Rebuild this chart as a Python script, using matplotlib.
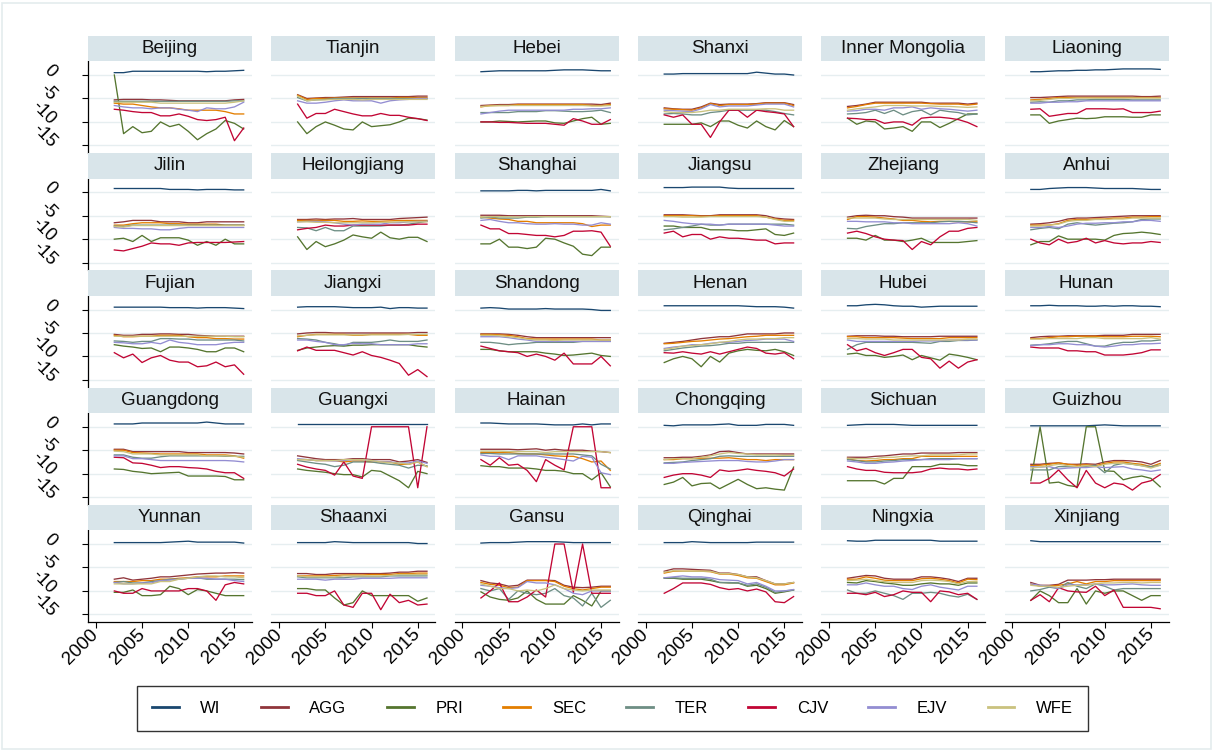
import numpy as np
import matplotlib
matplotlib.use('Agg')
import matplotlib.pyplot as plt
from matplotlib.patches import Rectangle
from matplotlib.lines import Line2D

plt.rcParams['font.family'] = ['Liberation Sans', 'DejaVu Sans']

YEARS = list(range(2002, 2017))
PROVINCES = ['Beijing', 'Tianjin', 'Hebei', 'Shanxi', 'Inner Mongolia', 'Liaoning',
             'Jilin', 'Heilongjiang', 'Shanghai', 'Jiangsu', 'Zhejiang', 'Anhui',
             'Fujian', 'Jiangxi', 'Shandong', 'Henan', 'Hubei', 'Hunan',
             'Guangdong', 'Guangxi', 'Hainan', 'Chongqing', 'Sichuan', 'Guizhou',
             'Yunnan', 'Shaanxi', 'Gansu', 'Qinghai', 'Ningxia', 'Xinjiang']
SERIES = ['WI', 'AGG', 'PRI', 'SEC', 'TER', 'CJV', 'EJV', 'WFE']
COLORS = ['#1a476f', '#90353b', '#55752f', '#e37e00', '#6e8e84', '#c10534', '#938dd2', '#cac27e']
X_TICKS = [2000, 2005, 2010, 2015]
Y_TICKS = [0, -5, -10, -15]

WI = {
    'Beijing': [0.5, 0.5, 0.8, 0.8, 0.8, 0.8, 0.8, 0.8, 0.8, 0.8, 0.7, 0.8, 0.8, 0.9, 1.0],
    'Hebei': [0.7, 0.8, 0.9, 0.9, 0.9, 0.9, 0.9, 0.9, 1.0, 1.1, 1.1, 1.1, 1.0, 0.9, 0.9],
    'Shanxi': [0.2, 0.2, 0.3, 0.3, 0.3, 0.3, 0.3, 0.3, 0.3, 0.3, 0.6, 0.4, 0.2, 0.2, 0.0],
    'Liaoning': [0.7, 0.7, 0.8, 0.9, 0.9, 1.0, 1.0, 1.1, 1.1, 1.2, 1.3, 1.3, 1.3, 1.3, 1.2],
    'Jilin': [0.8, 0.8, 0.8, 0.8, 0.8, 0.8, 0.6, 0.6, 0.6, 0.5, 0.6, 0.6, 0.6, 0.5, 0.5],
    'Shanghai': [0.3, 0.3, 0.3, 0.3, 0.4, 0.4, 0.3, 0.4, 0.4, 0.4, 0.4, 0.4, 0.4, 0.6, 0.3],
    'Jiangsu': [1.0, 1.0, 1.0, 1.1, 1.1, 1.1, 1.1, 0.9, 0.8, 0.8, 0.8, 0.8, 0.8, 0.8, 0.8],
    'Anhui': [0.6, 0.6, 0.8, 0.9, 1.0, 1.0, 1.0, 0.9, 0.8, 0.8, 0.8, 0.8, 0.7, 0.6, 0.6],
    'Fujian': [0.5, 0.5, 0.5, 0.5, 0.5, 0.5, 0.4, 0.4, 0.4, 0.3, 0.4, 0.4, 0.4, 0.3, 0.2],
    'Jiangxi': [0.5, 0.6, 0.6, 0.6, 0.6, 0.5, 0.4, 0.4, 0.4, 0.5, 0.2, 0.4, 0.4, 0.3, 0.3],
    'Shandong': [0.3, 0.4, 0.3, 0.1, 0.1, 0.1, 0.1, 0.2, 0.1, 0.1, 0.1, 0.1, 0.0, -0.2, -0.2],
    'Henan': [0.8, 0.8, 0.8, 0.8, 0.8, 0.8, 0.8, 0.8, 0.8, 0.7, 0.6, 0.6, 0.6, 0.5, 0.3],
    'Hubei': [0.8, 0.8, 1.0, 1.1, 1.0, 0.8, 0.7, 0.7, 0.5, 0.6, 0.7, 0.7, 0.7, 0.7, 0.7],
    'Hunan': [0.8, 0.8, 0.9, 0.8, 0.8, 0.8, 0.7, 0.7, 0.8, 0.7, 0.8, 0.8, 0.7, 0.7, 0.6],
    'Guangdong': [0.6, 0.6, 0.6, 0.8, 0.8, 0.8, 0.8, 0.8, 0.8, 0.8, 1.0, 0.8, 0.6, 0.6, 0.6],
    'Guangxi': [0.6, 0.6, 0.6, 0.6, 0.6, 0.6, 0.6, 0.6, 0.6, 0.6, 0.6, 0.6, 0.6, 0.6, 0.6],
    'Hainan': [0.8, 0.8, 0.7, 0.6, 0.6, 0.6, 0.6, 0.5, 0.4, 0.4, 0.4, 0.6, 0.4, 0.6, 0.6],
    'Chongqing': [0.3, 0.2, 0.4, 0.4, 0.4, 0.4, 0.5, 0.6, 0.3, 0.3, 0.3, 0.5, 0.5, 0.5, 0.3],
    'Sichuan': [0.3, 0.4, 0.5, 0.5, 0.5, 0.5, 0.4, 0.3, 0.3, 0.3, 0.3, 0.3, 0.3, 0.3, 0.3],
    'Guizhou': [0.2, 0.2, 0.2, 0.2, 0.2, 0.2, 0.2, 0.3, 0.4, 0.3, 0.2, 0.2, 0.2, 0.2, 0.2],
    'Yunnan': [0.3, 0.3, 0.3, 0.3, 0.3, 0.3, 0.4, 0.5, 0.6, 0.4, 0.4, 0.4, 0.4, 0.4, 0.2],
    'Shaanxi': [0.3, 0.3, 0.3, 0.3, 0.5, 0.4, 0.3, 0.3, 0.3, 0.3, 0.3, 0.3, 0.3, 0.1, 0.1],
    'Gansu': [0.2, 0.3, 0.3, 0.3, 0.4, 0.5, 0.5, 0.5, 0.5, 0.4, 0.3, 0.3, 0.3, 0.3, 0.3],
    'Qinghai': [0.3, 0.3, 0.3, 0.5, 0.4, 0.3, 0.3, 0.3, 0.3, 0.3, 0.4, 0.4, 0.4, 0.4, 0.4],
    'Ningxia': [0.7, 0.6, 0.6, 0.8, 0.8, 0.8, 0.8, 0.8, 0.8, 0.8, 0.6, 0.6, 0.6, 0.6, 0.6],
    'Xinjiang': [0.7, 0.5, 0.5, 0.5, 0.5, 0.5, 0.5, 0.5, 0.5, 0.5, 0.5, 0.5, 0.5, 0.5, 0.5],
}

AGG = {
    'Beijing': [-5.3, -5.2, -5.2, -5.2, -5.3, -5.3, -5.4, -5.5, -5.5, -5.5, -5.5, -5.5, -5.5, -5.3, -5.2],
    'Tianjin': [-4.2, -5.0, -4.9, -4.8, -4.8, -4.7, -4.6, -4.6, -4.6, -4.6, -4.6, -4.6, -4.6, -4.5, -4.5],
    'Hebei': [-6.5, -6.4, -6.3, -6.3, -6.2, -6.2, -6.2, -6.2, -6.2, -6.2, -6.2, -6.2, -6.2, -6.3, -6.0],
    'Shanxi': [-7.0, -7.2, -7.3, -7.3, -6.8, -6.0, -6.3, -6.2, -6.2, -6.2, -6.1, -5.9, -5.9, -5.9, -6.3],
    'Inner Mongolia': [-6.7, -6.5, -6.2, -5.8, -5.8, -5.8, -5.8, -5.8, -5.8, -6.0, -6.0, -6.0, -6.0, -6.2, -6.0],
    'Liaoning': [-4.8, -4.8, -4.7, -4.6, -4.5, -4.5, -4.5, -4.5, -4.5, -4.5, -4.5, -4.5, -4.6, -4.6, -4.5],
    'Jilin': [-6.5, -6.3, -6.0, -6.0, -6.0, -6.3, -6.3, -6.3, -6.5, -6.5, -6.3, -6.3, -6.3, -6.3, -6.3],
    'Heilongjiang': [-5.8, -5.8, -5.7, -5.8, -5.7, -5.7, -5.6, -5.8, -5.8, -5.8, -5.8, -5.6, -5.5, -5.4, -5.3],
    'Shanghai': [-4.9, -4.9, -4.9, -5.0, -5.0, -5.0, -5.0, -5.0, -5.0, -5.0, -5.0, -5.0, -5.0, -5.1, -5.2],
    'Jiangsu': [-4.8, -4.8, -4.8, -4.9, -5.0, -5.0, -4.8, -4.8, -4.8, -4.8, -4.8, -5.0, -5.5, -5.7, -5.8],
    'Zhejiang': [-5.3, -5.0, -4.9, -5.0, -5.0, -5.2, -5.3, -5.5, -5.5, -5.5, -5.5, -5.5, -5.5, -5.5, -5.5],
    'Anhui': [-6.8, -6.7, -6.5, -6.2, -5.7, -5.5, -5.5, -5.4, -5.3, -5.2, -5.1, -5.0, -5.0, -5.0, -5.0],
    'Fujian': [-5.3, -5.5, -5.5, -5.3, -5.3, -5.2, -5.2, -5.3, -5.3, -5.5, -5.6, -5.7, -5.7, -5.7, -5.7],
    'Jiangxi': [-5.2, -5.0, -4.9, -4.9, -5.0, -5.0, -5.0, -5.0, -5.0, -5.0, -5.0, -5.0, -5.0, -4.9, -4.9],
    'Shandong': [-5.2, -5.2, -5.2, -5.3, -5.5, -5.8, -6.0, -6.0, -6.0, -6.0, -6.0, -6.0, -6.0, -6.0, -6.0],
    'Henan': [-7.2, -7.0, -6.8, -6.5, -6.2, -6.0, -5.8, -5.8, -5.5, -5.2, -5.2, -5.2, -5.2, -5.0, -5.0],
    'Hubei': [-5.7, -5.6, -5.6, -5.6, -5.7, -5.7, -5.8, -5.8, -5.8, -5.8, -5.7, -5.7, -5.7, -5.7, -5.7],
    'Hunan': [-6.0, -5.8, -5.7, -5.7, -5.6, -5.6, -5.6, -5.6, -5.5, -5.5, -5.5, -5.3, -5.3, -5.3, -5.3],
    'Guangdong': [-4.8, -4.8, -5.3, -5.3, -5.3, -5.3, -5.3, -5.3, -5.5, -5.5, -5.5, -5.5, -5.5, -5.6, -5.8],
    'Guangxi': [-6.2, -6.5, -6.8, -7.0, -7.0, -7.0, -6.8, -6.8, -7.0, -7.0, -7.0, -7.5, -7.3, -7.0, -7.6],
    'Hainan': [-4.8, -4.8, -4.8, -4.8, -4.9, -4.8, -4.7, -5.0, -4.8, -5.0, -5.0, -5.0, -5.2, -5.3, -5.5],
    'Chongqing': [-6.6, -6.6, -6.5, -6.5, -6.3, -6.0, -5.3, -5.2, -5.5, -5.8, -5.8, -5.8, -5.8, -5.8, -5.8],
    'Sichuan': [-6.5, -6.5, -6.5, -6.3, -6.2, -6.0, -5.8, -5.8, -5.6, -5.6, -5.6, -5.6, -5.5, -5.5, -5.5],
    'Guizhou': [-8.0, -8.0, -7.8, -7.7, -8.0, -8.0, -7.9, -8.0, -7.5, -7.2, -7.2, -7.3, -7.5, -8.0, -7.2],
    'Yunnan': [-7.5, -7.2, -7.7, -7.5, -7.3, -7.0, -7.0, -6.8, -6.6, -6.4, -6.3, -6.2, -6.2, -6.1, -6.2],
    'Shaanxi': [-6.3, -6.3, -6.5, -6.5, -6.3, -6.3, -6.3, -6.3, -6.3, -6.3, -6.2, -6.0, -6.0, -5.8, -5.8],
    'Gansu': [-7.8, -8.3, -8.5, -9.0, -8.8, -7.7, -7.7, -7.7, -7.8, -8.8, -9.2, -9.3, -9.2, -9.0, -9.0],
    'Qinghai': [-5.8, -5.3, -5.3, -5.4, -5.5, -5.6, -6.2, -6.2, -6.5, -7.0, -7.0, -7.8, -8.5, -8.5, -8.2],
    'Ningxia': [-7.3, -7.0, -6.7, -6.8, -7.3, -7.5, -7.5, -7.5, -7.0, -7.0, -7.2, -7.5, -8.0, -7.3, -7.3],
    'Xinjiang': [-8.2, -8.8, -8.8, -8.6, -7.7, -7.7, -7.7, -7.6, -7.6, -7.5, -7.5, -7.5, -7.5, -7.5, -7.5],
}

PRI = {
    'Beijing': [0.0, -12.5, -11.0, -12.3, -12.0, -10.0, -11.0, -10.5, -12.0, -13.8, -12.5, -11.5, -9.7, -10.3, -11.5],
    'Tianjin': [-10.0, -12.5, -11.0, -10.0, -10.7, -11.5, -11.7, -10.0, -11.0, -10.8, -10.6, -10.0, -9.2, -9.3, -9.6],
    'Hebei': [-10.0, -10.0, -9.8, -9.9, -10.0, -9.9, -9.8, -9.8, -10.2, -10.3, -9.8, -9.3, -9.0, -10.5, -10.3],
    'Shanxi': [-10.5, -10.5, -10.5, -10.5, -10.2, -11.0, -9.8, -9.8, -10.7, -11.3, -9.8, -11.0, -11.7, -9.7, -11.0],
    'Inner Mongolia': [-9.2, -10.5, -9.8, -10.0, -11.5, -11.3, -11.0, -12.0, -10.0, -10.0, -11.2, -10.3, -9.3, -8.3, -8.3],
    'Liaoning': [-8.5, -8.5, -10.3, -9.8, -9.5, -9.2, -9.3, -9.2, -8.9, -8.9, -8.9, -9.0, -9.0, -8.5, -8.5],
    'Jilin': [-10.0, -9.8, -10.5, -9.2, -10.5, -9.7, -9.7, -9.7, -10.2, -11.3, -10.5, -11.3, -10.0, -11.0, -11.0],
    'Heilongjiang': [-9.5, -12.2, -10.5, -11.6, -11.0, -10.2, -9.1, -9.5, -9.8, -8.5, -9.7, -10.0, -9.6, -9.6, -10.5],
    'Shanghai': [-11.0, -11.0, -10.0, -11.7, -11.7, -12.0, -11.7, -9.8, -10.0, -10.8, -11.5, -13.2, -13.5, -11.7, -11.7],
    'Jiangsu': [-7.2, -7.2, -7.5, -7.5, -7.5, -8.0, -8.0, -8.0, -8.2, -8.2, -8.0, -7.8, -9.0, -9.2, -8.7],
    'Zhejiang': [-9.8, -9.8, -10.2, -9.2, -10.2, -10.2, -10.5, -10.2, -9.8, -10.7, -10.7, -10.7, -10.7, -10.5, -10.3],
    'Anhui': [-11.2, -10.5, -10.5, -9.3, -10.0, -10.0, -10.0, -10.0, -10.2, -9.2, -8.8, -8.7, -8.5, -8.7, -9.0],
    'Fujian': [-7.5, -7.8, -8.0, -8.3, -8.2, -9.0, -8.0, -8.0, -8.2, -8.5, -9.0, -9.0, -8.2, -8.2, -9.0],
    'Jiangxi': [-8.7, -8.2, -8.0, -7.8, -7.7, -7.8, -7.6, -7.6, -7.5, -7.5, -7.5, -7.5, -7.5, -7.8, -8.0],
    'Shandong': [-8.5, -8.5, -8.8, -9.0, -9.0, -9.0, -9.0, -9.3, -9.5, -9.8, -9.7, -9.5, -9.3, -9.8, -10.0],
    'Henan': [-11.3, -10.5, -10.0, -10.5, -12.2, -10.0, -11.2, -9.3, -8.8, -8.5, -8.7, -8.8, -8.5, -9.0, -9.8],
    'Hubei': [-9.5, -9.3, -9.8, -9.8, -10.2, -10.0, -9.7, -10.7, -9.8, -10.3, -10.8, -9.5, -9.8, -10.2, -10.7],
    'Guangdong': [-9.0, -9.1, -9.5, -9.7, -10.0, -9.9, -9.8, -9.7, -10.5, -10.5, -10.5, -10.5, -10.6, -11.3, -11.3],
    'Guangxi': [-9.0, -9.3, -9.5, -9.7, -10.0, -10.2, -10.2, -10.7, -9.3, -9.5, -10.5, -11.5, -13.0, -9.5, -10.0],
    'Hainan': [-8.3, -8.5, -8.5, -8.8, -8.8, -8.8, -9.0, -9.3, -9.3, -9.5, -10.0, -10.0, -11.3, -9.8, -12.8],
    'Chongqing': [-12.3, -11.8, -10.8, -12.6, -12.1, -12.0, -13.2, -12.2, -11.2, -12.3, -13.2, -13.0, -13.3, -13.5, -8.6],
    'Sichuan': [-11.5, -11.5, -11.5, -11.5, -12.2, -11.0, -11.0, -8.5, -8.5, -8.5, -8.0, -8.0, -8.0, -8.3, -8.3],
    'Guizhou': [-11.5, 0.0, -12.0, -11.8, -12.5, -12.8, 0.0, 0.0, -9.4, -9.5, -11.3, -10.8, -10.5, -11.0, -12.8],
    'Yunnan': [-10.3, -10.3, -9.8, -11.0, -11.0, -10.8, -9.0, -9.5, -10.8, -9.7, -10.0, -10.5, -11.0, -11.0, -11.0],
    'Shaanxi': [-9.5, -9.5, -9.8, -9.8, -11.5, -13.0, -12.5, -10.0, -11.0, -11.0, -11.0, -11.0, -11.0, -12.2, -11.5],
    'Gansu': [-10.2, -11.3, -11.8, -12.0, -11.5, -10.0, -11.8, -12.8, -12.8, -12.8, -11.0, -12.0, -13.2, -10.0, -10.0],
    'Qinghai': [-7.3, -7.3, -7.5, -7.5, -7.5, -7.8, -8.2, -8.3, -8.3, -9.0, -8.8, -9.5, -10.5, -10.2, -9.8],
    'Ningxia': [-8.2, -8.3, -7.8, -8.0, -8.3, -8.5, -8.8, -8.8, -8.5, -8.3, -8.5, -8.5, -8.8, -8.3, -8.3],
    'Xinjiang': [-12.0, -10.0, -11.0, -12.5, -12.5, -9.5, -12.8, -10.0, -10.5, -10.0, -10.0, -11.0, -12.0, -11.0, -11.0],
}

SEC = {
    'Beijing': [-6.0, -6.2, -6.2, -6.5, -6.8, -7.0, -7.0, -7.2, -7.5, -7.5, -7.5, -7.5, -7.8, -8.3, -8.3],
    'Tianjin': [-4.3, -5.2, -5.0, -5.0, -4.9, -4.9, -4.9, -4.9, -4.9, -4.9, -4.9, -4.8, -4.8, -4.8, -4.8],
    'Hebei': [-6.8, -6.5, -6.5, -6.5, -6.3, -6.3, -6.3, -6.3, -6.3, -6.3, -6.3, -6.3, -6.5, -6.5, -6.3],
    'Shanxi': [-7.2, -7.3, -7.4, -7.5, -7.0, -6.1, -6.5, -6.3, -6.3, -6.3, -6.2, -6.0, -6.0, -6.0, -6.5],
    'Inner Mongolia': [-7.0, -6.7, -6.3, -6.0, -6.0, -6.0, -6.0, -6.0, -6.0, -6.1, -6.2, -6.2, -6.2, -6.4, -6.2],
    'Liaoning': [-5.3, -5.2, -5.0, -4.8, -4.8, -4.8, -4.8, -4.8, -4.8, -4.8, -4.8, -4.8, -4.8, -4.8, -4.8],
    'Jilin': [-7.0, -7.0, -6.7, -6.5, -6.5, -6.5, -6.7, -6.7, -6.8, -6.8, -6.8, -6.8, -7.0, -7.0, -7.0],
    'Heilongjiang': [-6.0, -6.0, -6.0, -6.0, -6.0, -6.2, -6.2, -6.1, -6.2, -6.2, -6.1, -6.0, -6.0, -6.0, -6.0],
    'Shanghai': [-5.3, -5.5, -5.7, -5.8, -6.2, -6.2, -6.5, -6.5, -6.5, -6.5, -6.5, -6.7, -7.3, -7.0, -7.0],
    'Jiangsu': [-5.0, -5.0, -5.0, -5.0, -5.1, -5.1, -5.0, -5.0, -5.0, -5.0, -5.0, -5.3, -5.7, -6.0, -6.0],
    'Zhejiang': [-5.8, -5.2, -5.2, -5.3, -5.5, -5.7, -6.0, -6.0, -6.2, -6.3, -6.2, -6.2, -6.3, -6.3, -6.3],
    'Anhui': [-7.0, -7.0, -7.0, -6.7, -6.0, -5.8, -5.8, -5.7, -5.7, -5.5, -5.5, -5.3, -5.3, -5.2, -5.2],
    'Fujian': [-5.5, -5.8, -5.8, -5.7, -5.7, -5.5, -5.5, -5.5, -5.8, -6.0, -6.0, -6.2, -6.2, -6.3, -6.3],
    'Jiangxi': [-5.8, -5.5, -5.3, -5.3, -5.3, -5.3, -5.5, -5.5, -5.3, -5.3, -5.3, -5.3, -5.3, -5.5, -5.5],
    'Shandong': [-5.3, -5.3, -5.4, -5.5, -5.8, -6.2, -6.3, -6.3, -6.3, -6.3, -6.3, -6.3, -6.3, -6.5, -6.5],
    'Henan': [-7.3, -7.2, -7.0, -6.8, -6.7, -6.5, -6.3, -6.2, -6.0, -5.8, -5.7, -5.5, -5.5, -5.5, -5.5],
    'Hubei': [-5.8, -5.8, -6.0, -6.0, -6.0, -6.0, -6.1, -6.2, -6.2, -6.2, -6.2, -6.0, -6.0, -6.0, -6.0],
    'Hunan': [-6.2, -6.2, -6.0, -5.8, -5.8, -5.7, -5.7, -5.7, -5.8, -5.8, -5.8, -5.7, -5.7, -5.7, -5.8],
    'Guangdong': [-5.0, -5.0, -5.5, -5.6, -5.7, -5.8, -5.8, -5.8, -5.8, -5.8, -6.0, -6.0, -6.0, -6.2, -6.7],
    'Guangxi': [-7.0, -7.0, -7.2, -7.2, -7.2, -7.5, -7.3, -7.3, -7.5, -7.5, -7.5, -8.0, -8.0, -7.5, -8.5],
    'Hainan': [-5.5, -5.5, -5.5, -5.5, -5.7, -5.8, -5.8, -6.0, -6.2, -6.3, -6.3, -6.8, -7.5, -7.3, -9.3],
    'Chongqing': [-7.0, -7.0, -6.8, -6.8, -6.7, -6.7, -6.7, -6.6, -6.8, -7.0, -7.0, -7.2, -7.0, -7.0, -7.0],
    'Sichuan': [-6.8, -7.2, -7.3, -7.2, -7.0, -7.0, -6.8, -6.8, -6.3, -6.3, -6.3, -6.3, -6.3, -6.3, -6.3],
    'Guizhou': [-8.3, -8.2, -8.0, -7.7, -8.0, -8.2, -8.1, -8.3, -7.8, -7.5, -7.5, -7.8, -8.0, -8.5, -7.8],
    'Yunnan': [-8.0, -8.0, -8.0, -7.8, -7.8, -7.5, -7.5, -7.3, -7.2, -7.0, -7.0, -7.0, -6.8, -6.8, -6.8],
    'Shaanxi': [-6.8, -6.8, -6.8, -6.8, -6.7, -6.6, -6.6, -6.6, -6.5, -6.5, -6.5, -6.3, -6.3, -6.2, -6.2],
    'Gansu': [-8.2, -8.6, -8.8, -9.3, -9.2, -7.8, -7.8, -7.8, -8.0, -9.0, -9.5, -9.8, -9.5, -9.2, -9.2],
    'Qinghai': [-6.2, -5.8, -5.8, -5.8, -5.8, -5.9, -6.4, -6.4, -6.7, -7.2, -7.3, -8.0, -8.7, -8.7, -8.3],
    'Ningxia': [-7.5, -7.5, -7.0, -7.3, -7.7, -7.8, -7.8, -7.8, -7.4, -7.3, -7.5, -7.8, -8.3, -7.5, -7.6],
    'Xinjiang': [-8.5, -9.0, -9.0, -8.8, -8.5, -8.0, -8.5, -8.0, -8.0, -7.8, -7.8, -7.8, -7.8, -7.8, -7.8],
}

TER = {
    'Beijing': [-5.6, -5.6, -5.6, -5.6, -5.6, -5.6, -5.6, -5.6, -5.6, -5.6, -5.6, -5.6, -5.6, -5.5, -5.5],
    'Tianjin': [-4.8, -5.5, -5.3, -5.2, -5.0, -5.0, -5.0, -5.0, -5.0, -5.0, -5.0, -5.0, -5.0, -5.0, -5.0],
    'Hebei': [-8.0, -8.0, -8.0, -8.0, -7.8, -7.8, -7.8, -7.6, -7.6, -7.7, -7.8, -7.8, -7.7, -7.5, -8.0],
    'Shanxi': [-8.3, -8.2, -8.3, -8.5, -8.5, -8.0, -7.8, -7.5, -7.5, -7.5, -7.5, -7.5, -7.8, -8.2, -8.5],
    'Inner Mongolia': [-8.3, -8.2, -8.0, -7.5, -8.2, -7.5, -8.5, -7.8, -7.5, -8.5, -7.5, -7.8, -8.0, -8.5, -8.3],
    'Liaoning': [-5.8, -5.7, -5.8, -5.5, -5.5, -5.3, -5.3, -5.2, -5.2, -5.2, -5.2, -5.3, -5.3, -5.3, -5.3],
    'Jilin': [-7.2, -7.3, -7.0, -7.0, -7.0, -7.0, -7.0, -7.0, -7.0, -7.0, -7.0, -7.0, -7.0, -7.0, -7.0],
    'Heilongjiang': [-7.5, -7.6, -8.2, -7.5, -8.2, -8.2, -7.2, -7.2, -7.2, -7.2, -7.0, -7.0, -6.8, -6.5, -6.2],
    'Shanghai': [-5.5, -5.3, -5.5, -5.5, -5.5, -5.3, -5.3, -5.2, -5.2, -5.2, -5.2, -5.2, -5.2, -5.2, -5.2],
    'Jiangsu': [-8.0, -7.8, -7.5, -7.2, -6.8, -7.0, -7.0, -6.8, -6.8, -6.8, -6.8, -6.8, -6.8, -6.8, -7.0],
    'Zhejiang': [-7.7, -7.8, -7.3, -7.0, -6.7, -6.7, -6.5, -6.5, -6.5, -6.5, -6.3, -6.2, -6.2, -6.3, -6.5],
    'Anhui': [-8.0, -7.7, -7.5, -7.8, -6.8, -6.5, -6.8, -7.0, -6.8, -6.6, -6.5, -6.3, -5.8, -5.7, -5.7],
    'Fujian': [-6.7, -6.8, -7.0, -6.8, -6.8, -6.2, -6.2, -6.3, -6.3, -6.5, -6.5, -6.5, -6.5, -6.5, -6.7],
    'Jiangxi': [-6.2, -6.3, -6.5, -7.0, -7.3, -7.7, -7.0, -7.0, -7.0, -6.8, -6.5, -6.8, -6.8, -6.8, -6.5],
    'Shandong': [-7.0, -7.0, -7.2, -7.5, -7.3, -7.2, -7.0, -7.0, -7.0, -7.0, -7.0, -6.8, -6.8, -6.8, -6.8],
    'Henan': [-8.8, -8.5, -8.2, -8.0, -7.8, -7.7, -7.5, -7.2, -7.2, -7.0, -7.0, -7.0, -7.0, -7.0, -7.0],
    'Hubei': [-8.5, -7.5, -7.0, -7.0, -7.0, -7.0, -7.0, -7.0, -7.1, -7.2, -6.8, -6.8, -6.6, -6.6, -6.5],
    'Hunan': [-7.6, -7.5, -7.3, -7.0, -6.8, -6.8, -7.3, -7.8, -7.8, -7.3, -7.0, -7.0, -6.7, -6.7, -6.5],
    'Guangdong': [-6.0, -6.0, -6.5, -6.7, -6.7, -6.4, -6.2, -6.2, -6.2, -6.2, -6.2, -6.2, -6.3, -6.3, -6.3],
    'Guangxi': [-7.2, -7.5, -7.8, -8.0, -8.5, -8.2, -7.5, -7.5, -7.5, -7.8, -8.0, -8.2, -8.8, -8.2, -8.3],
    'Hainan': [-5.7, -5.7, -5.8, -5.8, -5.8, -5.8, -5.8, -5.8, -5.8, -5.8, -5.8, -6.0, -6.2, -8.0, -9.0],
    'Chongqing': [-7.7, -7.6, -7.5, -7.2, -7.0, -6.8, -6.3, -6.2, -6.3, -6.3, -6.3, -6.3, -6.3, -6.3, -6.3],
    'Sichuan': [-7.0, -7.2, -7.5, -7.5, -7.3, -7.2, -7.0, -7.0, -7.0, -6.8, -6.8, -6.8, -6.8, -6.8, -6.8],
    'Guizhou': [-9.2, -9.2, -9.2, -8.5, -8.5, -8.5, -8.5, -8.2, -9.8, -8.2, -7.8, -8.0, -8.3, -8.5, -8.2],
    'Yunnan': [-8.2, -8.0, -8.3, -8.3, -8.0, -7.8, -7.5, -7.5, -7.3, -7.2, -7.5, -7.5, -7.5, -7.5, -7.6],
    'Shaanxi': [-7.0, -7.2, -7.2, -7.2, -7.2, -7.2, -7.0, -7.0, -7.0, -7.0, -6.8, -6.8, -6.8, -6.8, -6.8],
    'Gansu': [-9.5, -10.0, -9.5, -11.8, -10.0, -10.5, -10.8, -10.5, -9.5, -11.0, -11.5, -13.2, -10.5, -13.5, -12.0],
    'Qinghai': [-7.2, -7.2, -7.3, -7.3, -7.3, -7.5, -8.2, -8.2, -8.3, -8.8, -8.5, -9.2, -10.3, -10.0, -9.8],
    'Ningxia': [-9.8, -10.5, -10.5, -10.0, -10.5, -11.0, -11.8, -10.5, -10.5, -10.3, -10.5, -11.0, -11.3, -10.7, -11.8],
    'Xinjiang': [-10.0, -9.7, -9.2, -9.5, -8.2, -9.0, -9.5, -8.5, -9.0, -9.8, -9.5, -9.5, -9.5, -9.5, -9.5],
}

CJV = {
    'Beijing': [-7.3, -7.5, -7.8, -8.0, -8.0, -8.7, -8.7, -8.3, -8.8, -9.5, -9.7, -9.5, -9.0, -14.0, -11.3],
    'Tianjin': [-6.2, -9.2, -8.2, -8.2, -7.3, -7.8, -8.3, -8.7, -8.7, -8.2, -8.6, -8.6, -9.0, -9.3, -9.7],
    'Hebei': [-10.0, -10.0, -10.1, -10.1, -10.2, -10.3, -10.3, -10.3, -10.5, -10.7, -9.3, -9.8, -10.5, -10.5, -9.5],
    'Shanxi': [-8.5, -9.0, -8.5, -10.5, -10.5, -13.3, -10.0, -7.5, -7.5, -9.0, -7.5, -7.8, -8.0, -8.3, -11.0],
    'Inner Mongolia': [-9.2, -9.3, -9.5, -9.5, -10.3, -10.0, -10.0, -10.7, -9.2, -9.0, -9.0, -9.2, -9.5, -10.1, -11.0],
    'Liaoning': [-7.3, -7.2, -8.8, -8.5, -8.2, -8.2, -7.2, -7.2, -7.2, -7.3, -7.2, -8.0, -8.0, -8.0, -7.7],
    'Jilin': [-12.3, -12.5, -12.0, -11.5, -10.8, -11.0, -11.0, -11.3, -10.8, -10.7, -10.7, -10.7, -10.7, -10.6, -10.5],
    'Heilongjiang': [-8.0, -7.7, -7.5, -7.0, -7.2, -7.2, -7.0, -7.0, -7.0, -7.0, -7.0, -7.0, -7.0, -6.8, -6.8],
    'Shanghai': [-7.0, -7.8, -7.8, -8.8, -8.8, -9.0, -9.2, -9.2, -9.5, -9.2, -8.3, -8.3, -8.2, -8.5, -11.5],
    'Jiangsu': [-8.7, -8.3, -9.5, -9.0, -9.0, -10.0, -9.5, -9.8, -9.8, -10.0, -10.2, -10.2, -11.0, -10.8, -10.8],
    'Zhejiang': [-8.7, -8.3, -8.8, -9.5, -10.0, -10.2, -10.3, -12.2, -10.5, -11.2, -9.5, -8.3, -8.3, -7.7, -7.5],
    'Anhui': [-10.0, -10.8, -11.2, -10.0, -10.8, -10.5, -9.8, -10.8, -10.3, -10.8, -11.0, -10.8, -10.8, -10.5, -10.7],
    'Fujian': [-9.2, -10.3, -9.5, -11.3, -10.3, -9.8, -10.8, -11.2, -11.2, -12.2, -12.0, -11.2, -12.2, -11.8, -13.8],
    'Jiangxi': [-8.8, -8.0, -8.7, -8.7, -8.7, -9.2, -9.7, -9.0, -9.8, -10.2, -10.8, -11.5, -14.0, -12.8, -14.3],
    'Shandong': [-7.8, -8.3, -8.8, -9.0, -9.2, -10.0, -9.5, -10.0, -10.8, -9.3, -11.6, -11.6, -11.6, -10.0, -12.0],
    'Henan': [-9.2, -9.3, -9.0, -9.3, -9.5, -9.0, -9.5, -9.0, -8.5, -8.0, -8.3, -9.3, -9.5, -9.2, -10.5],
    'Hubei': [-7.5, -8.8, -8.3, -9.2, -9.8, -9.2, -8.5, -8.5, -10.2, -10.5, -12.5, -11.0, -12.5, -11.2, -10.7],
    'Hunan': [-8.0, -8.2, -8.2, -8.2, -8.8, -8.8, -9.0, -9.0, -9.7, -9.7, -9.7, -9.5, -9.2, -8.6, -8.6],
    'Guangdong': [-6.5, -6.6, -7.7, -7.8, -8.2, -8.7, -8.5, -8.5, -8.7, -8.8, -9.0, -9.5, -9.8, -9.8, -11.0],
    'Guangxi': [-8.0, -8.6, -9.0, -9.3, -10.3, -7.5, -10.5, -11.0, 0.0, 0.0, 0.0, 0.0, 0.0, -13.0, 0.0],
    'Hainan': [-7.0, -8.2, -6.6, -8.2, -8.0, -9.3, -11.7, -7.0, -8.2, -9.2, 0.0, 0.0, 0.0, -13.0, -13.0],
    'Chongqing': [-10.8, -10.3, -10.0, -10.0, -10.3, -10.8, -9.2, -9.5, -9.3, -9.0, -9.3, -9.5, -9.8, -10.5, -9.0],
    'Sichuan': [-8.5, -9.0, -9.3, -9.3, -9.7, -9.8, -9.8, -9.8, -9.6, -9.0, -8.8, -9.0, -9.0, -9.2, -9.0],
    'Guizhou': [-12.0, -12.0, -11.0, -9.2, -11.3, -13.0, -9.3, -12.0, -13.0, -12.0, -12.3, -13.5, -12.0, -11.5, -10.2],
    'Yunnan': [-10.0, -10.5, -10.5, -9.5, -10.0, -10.0, -10.0, -10.0, -9.5, -9.5, -10.0, -12.0, -8.7, -8.2, -8.5],
    'Shaanxi': [-10.5, -10.5, -11.0, -11.0, -10.0, -13.0, -13.5, -10.5, -10.5, -14.0, -10.7, -12.5, -12.0, -13.0, -12.8],
    'Gansu': [-11.5, -10.0, -8.3, -12.3, -12.3, -11.3, -9.8, -11.3, 0.0, 0.0, -10.3, 0.0, -10.5, -10.5, -10.5],
    'Qinghai': [-10.5, -9.5, -8.3, -8.3, -8.3, -8.6, -9.3, -9.7, -9.5, -10.0, -9.6, -10.2, -12.3, -12.5, -11.2],
    'Ningxia': [-10.5, -10.5, -10.8, -10.3, -11.2, -10.8, -10.0, -10.3, -10.3, -12.3, -10.0, -10.2, -10.8, -10.5, -11.8],
    'Xinjiang': [-12.0, -10.8, -12.3, -9.3, -10.0, -10.2, -10.3, -9.0, -11.0, -9.8, -13.5, -13.5, -13.5, -13.5, -13.8],
}

EJV = {
    'Beijing': [-6.5, -6.8, -7.0, -7.0, -7.2, -7.0, -7.0, -7.3, -7.5, -7.8, -7.0, -7.2, -7.2, -6.8, -5.8],
    'Tianjin': [-5.5, -6.0, -6.0, -5.8, -5.5, -5.3, -5.5, -5.5, -5.5, -6.0, -5.5, -5.3, -5.2, -5.0, -5.0],
    'Hebei': [-8.3, -8.0, -7.7, -7.5, -7.5, -7.5, -7.5, -7.5, -7.5, -7.5, -7.3, -7.3, -7.2, -7.2, -7.0],
    'Shanxi': [-7.5, -7.6, -7.7, -7.8, -7.2, -6.3, -6.8, -6.6, -6.6, -6.6, -6.4, -6.2, -6.2, -6.2, -6.8],
    'Inner Mongolia': [-7.7, -7.6, -7.3, -7.3, -7.5, -7.0, -7.0, -6.8, -7.3, -7.0, -7.2, -7.3, -7.5, -7.7, -7.5],
    'Liaoning': [-6.0, -6.0, -5.8, -5.8, -5.7, -5.7, -5.5, -5.5, -5.5, -5.5, -5.5, -5.5, -5.5, -5.5, -5.5],
    'Jilin': [-7.5, -7.7, -7.7, -7.8, -7.8, -8.0, -8.0, -7.7, -7.5, -7.5, -7.5, -7.5, -7.5, -7.5, -7.5],
    'Heilongjiang': [-6.3, -6.2, -6.2, -6.3, -6.5, -6.8, -7.0, -6.8, -6.8, -6.8, -6.5, -6.5, -6.3, -6.2, -6.2],
    'Shanghai': [-6.0, -5.8, -6.2, -6.5, -6.5, -6.7, -6.8, -6.8, -6.7, -6.8, -6.8, -7.0, -7.0, -6.5, -6.8],
    'Jiangsu': [-6.0, -6.2, -6.5, -6.7, -6.8, -6.8, -7.0, -6.8, -6.8, -6.8, -6.8, -6.8, -7.0, -7.2, -7.2],
    'Zhejiang': [-6.2, -6.2, -6.3, -6.3, -6.3, -6.5, -6.5, -6.7, -6.7, -6.7, -6.7, -6.7, -6.5, -6.7, -7.2],
    'Anhui': [-7.5, -7.5, -7.3, -7.5, -7.2, -6.8, -6.6, -6.6, -6.5, -6.5, -6.3, -6.3, -6.0, -6.0, -6.2],
    'Fujian': [-7.0, -7.1, -7.3, -7.3, -7.0, -7.3, -6.5, -7.0, -7.2, -7.5, -7.5, -7.5, -7.2, -7.0, -7.0],
    'Jiangxi': [-6.5, -6.5, -6.8, -7.0, -7.5, -7.5, -7.2, -7.3, -7.3, -7.5, -7.5, -7.5, -7.5, -7.3, -7.3],
    'Shandong': [-5.8, -5.8, -5.8, -6.0, -6.3, -6.5, -6.8, -6.8, -6.8, -6.8, -6.8, -6.8, -6.8, -6.8, -6.8],
    'Henan': [-8.3, -8.0, -7.8, -7.5, -7.5, -7.2, -7.0, -7.0, -6.8, -6.6, -6.5, -6.3, -6.3, -6.3, -6.8],
    'Hubei': [-6.5, -6.8, -6.8, -6.8, -6.8, -6.8, -6.8, -6.8, -6.7, -6.7, -6.7, -6.5, -6.5, -6.5, -6.5],
    'Hunan': [-7.7, -7.5, -7.5, -7.3, -7.3, -7.5, -7.5, -7.8, -8.0, -7.8, -7.5, -7.5, -7.3, -7.3, -7.2],
    'Guangdong': [-6.2, -6.2, -6.8, -6.8, -7.0, -7.2, -7.2, -7.2, -7.2, -7.2, -7.2, -7.2, -7.2, -7.3, -7.5],
    'Guangxi': [-6.8, -7.0, -7.2, -7.2, -7.3, -7.2, -7.0, -7.0, -7.2, -7.5, -7.5, -7.7, -7.7, -7.3, -7.8],
    'Hainan': [-6.0, -6.3, -6.3, -7.0, -6.2, -6.2, -6.2, -6.5, -6.7, -7.0, -7.3, -6.3, -6.5, -9.8, -10.2],
    'Chongqing': [-7.8, -7.8, -7.6, -7.5, -7.4, -7.3, -7.2, -7.2, -7.2, -7.4, -7.5, -7.5, -7.3, -7.0, -7.0],
    'Sichuan': [-7.3, -7.5, -7.8, -7.8, -7.6, -7.5, -7.3, -7.2, -7.0, -7.0, -7.0, -7.0, -6.8, -6.8, -6.8],
    'Guizhou': [-8.5, -8.6, -8.5, -9.0, -8.8, -8.7, -8.7, -8.5, -8.7, -8.6, -8.5, -9.0, -9.2, -9.5, -9.2],
    'Yunnan': [-8.2, -8.5, -8.5, -8.3, -8.3, -7.8, -7.7, -7.5, -7.3, -7.3, -7.3, -7.5, -7.5, -7.8, -8.0],
    'Shaanxi': [-7.5, -7.5, -7.5, -7.7, -7.5, -7.5, -7.5, -7.3, -7.3, -7.3, -7.3, -7.2, -7.2, -7.2, -7.2],
    'Gansu': [-8.8, -9.0, -9.3, -9.5, -9.3, -8.0, -8.3, -8.3, -8.7, -9.5, -10.5, -10.8, -10.0, -10.0, -10.0],
    'Qinghai': [-7.2, -7.0, -6.8, -7.0, -7.0, -7.2, -7.6, -7.7, -7.8, -8.5, -8.2, -9.0, -10.0, -10.0, -9.7],
    'Ningxia': [-8.7, -8.7, -8.3, -8.7, -9.0, -9.0, -9.5, -9.7, -9.0, -8.7, -9.2, -9.5, -9.8, -9.0, -9.0],
    'Xinjiang': [-8.5, -8.8, -9.0, -9.5, -8.7, -8.7, -8.7, -8.5, -8.7, -8.7, -8.6, -8.5, -8.7, -8.8, -8.8],
}

WFE = {
    'Beijing': [-5.8, -5.8, -5.8, -5.8, -5.8, -6.0, -6.0, -6.0, -6.0, -6.0, -6.0, -6.0, -6.0, -5.8, -5.5],
    'Tianjin': [-4.5, -5.5, -5.3, -5.3, -5.2, -5.2, -5.2, -5.3, -5.2, -5.2, -5.2, -5.2, -5.2, -5.2, -5.2],
    'Hebei': [-6.7, -6.6, -6.5, -6.5, -6.5, -6.5, -6.5, -6.5, -6.5, -6.5, -6.5, -6.5, -6.6, -6.6, -6.5],
    'Shanxi': [-7.8, -8.0, -8.0, -8.0, -7.8, -7.5, -7.5, -7.3, -7.3, -7.3, -7.3, -7.2, -7.2, -7.5, -7.5],
    'Inner Mongolia': [-7.5, -7.2, -7.0, -6.8, -6.5, -6.5, -6.5, -6.6, -6.6, -6.6, -6.7, -6.7, -6.8, -6.9, -6.8],
    'Liaoning': [-5.5, -5.4, -5.2, -5.0, -5.0, -4.9, -4.9, -4.9, -4.9, -4.9, -4.9, -4.9, -4.9, -4.9, -4.9],
    'Jilin': [-7.3, -7.4, -7.1, -7.1, -7.1, -7.1, -7.1, -7.1, -7.1, -7.1, -7.1, -7.1, -7.1, -7.1, -7.1],
    'Heilongjiang': [-6.3, -6.3, -6.4, -6.4, -6.5, -6.5, -6.5, -6.5, -6.5, -6.4, -6.4, -6.3, -6.3, -6.3, -6.3],
    'Shanghai': [-5.3, -5.2, -5.2, -5.2, -5.3, -5.2, -5.2, -5.2, -5.2, -5.2, -5.2, -5.2, -5.2, -5.2, -5.2],
    'Jiangsu': [-5.2, -5.2, -5.3, -5.3, -5.3, -5.2, -5.2, -5.2, -5.2, -5.2, -5.2, -5.3, -5.8, -6.2, -6.2],
    'Zhejiang': [-5.5, -5.5, -5.5, -5.5, -5.7, -5.8, -5.8, -5.8, -5.8, -5.8, -5.8, -5.8, -5.8, -5.8, -6.0],
    'Anhui': [-7.2, -7.2, -7.0, -6.8, -6.2, -6.0, -6.0, -5.8, -5.8, -5.7, -5.7, -5.5, -5.5, -5.5, -5.5],
    'Fujian': [-5.7, -5.7, -5.7, -5.7, -5.7, -5.7, -5.7, -5.7, -5.7, -5.7, -5.7, -5.7, -5.7, -5.8, -5.8],
    'Jiangxi': [-5.6, -5.5, -5.4, -5.4, -5.4, -5.4, -5.4, -5.4, -5.4, -5.4, -5.4, -5.4, -5.3, -5.3, -5.3],
    'Shandong': [-5.5, -5.5, -5.6, -5.8, -6.0, -6.3, -6.5, -6.5, -6.6, -6.5, -6.5, -6.5, -6.5, -6.5, -6.5],
    'Henan': [-8.5, -8.2, -7.8, -7.7, -7.5, -7.3, -7.0, -6.8, -6.5, -6.3, -6.3, -6.2, -6.2, -6.0, -6.0],
    'Hubei': [-6.2, -6.2, -6.3, -6.3, -6.3, -6.5, -6.5, -6.5, -6.5, -6.5, -6.5, -6.5, -6.5, -6.3, -6.3],
    'Hunan': [-6.3, -6.3, -6.2, -6.2, -6.2, -6.2, -6.0, -6.0, -6.2, -6.2, -6.2, -6.2, -6.2, -6.0, -6.3],
    'Guangdong': [-5.2, -5.3, -5.8, -5.8, -5.8, -6.0, -6.0, -6.0, -6.0, -6.0, -6.2, -6.2, -6.2, -6.3, -6.5],
    'Guangxi': [-7.0, -7.0, -7.2, -7.2, -7.2, -7.0, -7.0, -7.0, -7.2, -7.5, -7.7, -7.7, -8.0, -7.5, -8.5],
    'Hainan': [-5.2, -5.2, -5.2, -5.3, -5.3, -5.3, -5.3, -5.5, -5.3, -5.3, -5.3, -5.3, -5.3, -5.3, -5.5],
    'Chongqing': [-7.0, -6.8, -6.8, -6.8, -6.5, -6.2, -5.8, -5.5, -5.7, -5.8, -6.0, -6.0, -6.0, -6.1, -6.1],
    'Sichuan': [-6.7, -6.8, -6.8, -6.8, -6.5, -6.5, -6.3, -6.2, -6.2, -6.0, -6.0, -6.0, -6.0, -5.8, -5.8],
    'Guizhou': [-8.8, -8.6, -8.3, -8.0, -8.3, -8.5, -8.3, -8.5, -8.0, -7.8, -7.8, -8.0, -8.3, -8.8, -8.2],
    'Yunnan': [-8.5, -8.5, -8.5, -8.5, -8.5, -8.0, -8.0, -7.5, -7.3, -7.0, -6.8, -6.8, -7.0, -7.0, -7.2],
    'Shaanxi': [-6.8, -7.0, -7.0, -7.0, -7.0, -6.8, -6.8, -6.8, -6.8, -6.8, -6.7, -6.5, -6.5, -6.5, -6.5],
    'Gansu': [-8.5, -9.0, -9.5, -9.5, -10.0, -9.8, -10.0, -9.5, -8.7, -9.5, -9.8, -10.0, -9.8, -9.8, -9.8],
    'Qinghai': [-6.0, -5.7, -5.8, -5.8, -5.8, -5.8, -6.3, -6.3, -6.5, -7.0, -7.2, -7.8, -8.5, -8.5, -8.2],
    'Ningxia': [-7.8, -7.7, -7.5, -7.8, -8.0, -8.2, -8.2, -8.2, -7.8, -7.7, -7.8, -8.0, -8.5, -8.0, -8.0],
    'Xinjiang': [-8.8, -9.0, -9.0, -9.2, -9.0, -8.8, -8.8, -8.5, -8.3, -8.3, -8.2, -8.2, -8.3, -8.2, -8.2],
}

DATA = [WI, AGG, PRI, SEC, TER, CJV, EJV, WFE]

# ---------------- layout (pixels) ----------------
W, H = 1214, 751
fig = plt.figure(figsize=(W / 100, H / 100), dpi=100)
fig.patch.set_facecolor('white')
fig.add_artist(Rectangle((2 / W, 2 / H), (W - 5) / W, (H - 5) / H, transform=fig.transFigure,
                         fill=False, edgecolor='#e4ecee', linewidth=1.2))

COL_LEFT0, COL_PITCH, PW = 88.0, 183.3, 164.0
ROW_TOP0, ROW_PITCH, SH, PH = 35.9, 117.25, 25.5, 91.5
STRIP_COLOR = '#d9e5ea'
GRID_COLOR = '#e6eef0'

for k, prov in enumerate(PROVINCES):
    r, c = divmod(k, 6)
    left = COL_LEFT0 + c * COL_PITCH
    ptop = ROW_TOP0 + r * ROW_PITCH + SH
    ax = fig.add_axes([left / W, 1 - (ptop + PH) / H, PW / W, PH / H])
    ax.set_xlim(1999.15, 2016.9)
    ax.set_ylim(-16.6, 2.9)
    ax.set_facecolor('white')
    for yv in Y_TICKS:
        ax.axhline(yv, color=GRID_COLOR, lw=1.0, zorder=0)
    for s, series in enumerate(SERIES):
        vals = DATA[s].get(prov)
        if vals is None:
            continue
        ax.plot(YEARS, vals, color=COLORS[s], lw=0.95, zorder=2 + s)
    for sp in ax.spines.values():
        sp.set_visible(False)
    ax.set_xticks(X_TICKS)
    ax.set_yticks(Y_TICKS)
    if c == 0:
        ax.spines['left'].set_visible(True)
        ax.spines['left'].set_color('black')
        ax.spines['left'].set_linewidth(0.9)
        ax.set_yticklabels([str(v) for v in Y_TICKS], fontsize=13, rotation=-45,
                           rotation_mode='anchor', ha='right', va='center')
        ax.tick_params(axis='y', length=4, width=0.8, pad=21)
    else:
        ax.tick_params(axis='y', length=0, labelleft=False)
    if r == 4:
        ax.spines['bottom'].set_visible(True)
        ax.spines['bottom'].set_color('black')
        ax.spines['bottom'].set_linewidth(0.9)
        ax.set_xticklabels([str(v) for v in X_TICKS], fontsize=13.5, rotation=45,
                           rotation_mode='anchor', ha='right', va='center')
        ax.tick_params(axis='x', length=4, width=0.8, pad=3)
    else:
        ax.tick_params(axis='x', length=0, labelbottom=False)
    # strip title
    ax.add_patch(Rectangle((0, 1), 1, SH / PH, transform=ax.transAxes, facecolor=STRIP_COLOR,
                           edgecolor='none', clip_on=False, zorder=5))
    ax.text(0.5, 1 + SH / PH / 2, prov, transform=ax.transAxes, ha='center', va='center',
            fontsize=13.5, color='#111111', zorder=6)

# ---------------- legend ----------------
handles = [Line2D([0], [0], color=COLORS[i], lw=2) for i in range(len(SERIES))]
leg = fig.legend(handles, SERIES, loc='lower left', ncol=8, mode='expand',
                 bbox_to_anchor=(137 / W, (H - 731) / H, (1088 - 137) / W, 48 / H),
                 frameon=True, fancybox=False, fontsize=12, handlelength=1.6,
                 handletextpad=1.3, borderpad=0.9, borderaxespad=0)
leg.get_frame().set_edgecolor('black')
leg.get_frame().set_linewidth(1.0)

fig.savefig('out.png', dpi=100)
